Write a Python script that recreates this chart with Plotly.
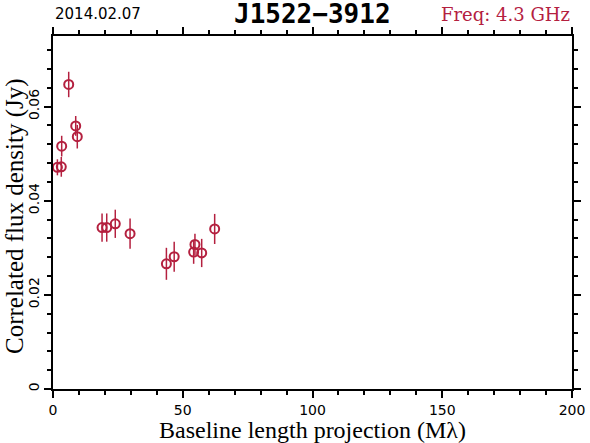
import plotly.graph_objects as go

baseline = [1.7, 3.2, 3.35, 6.05, 8.75, 9.36, 18.9, 20.7, 24.0, 29.7, 43.7, 46.7, 54.2, 54.7, 57.3, 62.3]
flux = [0.0471, 0.0472, 0.0516, 0.0647, 0.0559, 0.0536, 0.0343, 0.0343, 0.0351, 0.0330,
        0.0266, 0.0281, 0.0291, 0.0307, 0.0289, 0.0340]
flux_err = [0.0017, 0.0021, 0.0022, 0.0027, 0.0021, 0.0025, 0.0030, 0.0030, 0.0030, 0.0032,
            0.0034, 0.0032, 0.0025, 0.0023, 0.0030, 0.0032]

date_text = "2014.02.07"
source_text = "J1522\u22123912"
freq_text = "Freq: 4.3 GHz"
x_title = "Baseline length projection (M\u03bb)"
y_title = "Correlated flux density (Jy)"

red = "#B4203F"

fig = go.Figure()
fig.add_trace(go.Scatter(
    x=baseline, y=flux, mode="markers",
    marker=dict(symbol="circle-open", size=9, color=red, line=dict(width=2, color=red)),
    error_y=dict(type="data", array=flux_err, visible=True, color=red, thickness=1.5, width=0),
    showlegend=False,
))

axis_common = dict(
    showgrid=False, zeroline=False, showline=True, linecolor="black", linewidth=1.5,
    mirror="allticks", ticks="outside", tickcolor="black", tickwidth=1.5,
    tickfont=dict(family="DejaVu Sans", size=14, color="black"),
    automargin=False,
)

fig.update_xaxes(
    range=[0, 200], dtick=50, tick0=0, ticklen=7,
    minor=dict(dtick=10, ticklen=4, ticks="outside", tickcolor="black", tickwidth=1.5),
    **axis_common,
)
fig.update_yaxes(
    range=[0, 0.075], dtick=0.02, tick0=0, ticklen=7, tickangle=-90,
    minor=dict(dtick=0.004, ticklen=4, ticks="outside", tickcolor="black", tickwidth=1.5),
    **axis_common,
)

# axis titles
fig.add_annotation(text=x_title, x=0.5, y=0, xref="paper", yref="paper",
                   xanchor="center", yanchor="middle", yshift=-41, showarrow=False,
                   font=dict(family="Liberation Serif", size=24, color="black"))
fig.add_annotation(text=y_title, x=0, y=0.49, xref="paper", yref="paper",
                   xanchor="center", yanchor="middle", xshift=-38, textangle=-90, showarrow=False,
                   font=dict(family="Liberation Serif", size=25, color="black"))

# header texts
fig.add_annotation(text=date_text, x=0, y=1, xref="paper", yref="paper",
                   xanchor="left", yanchor="middle", yshift=22, showarrow=False,
                   font=dict(family="DejaVu Sans", size=15, color="black"))
fig.add_annotation(text="<b>" + source_text + "</b>", x=0.5, y=1, xref="paper", yref="paper",
                   xanchor="center", yanchor="middle", yshift=22, showarrow=False,
                   font=dict(family="DejaVu Sans Mono", size=26, color="black"))
fig.add_annotation(text=freq_text, x=1, y=1, xref="paper", yref="paper",
                   xanchor="right", yanchor="middle", yshift=22, showarrow=False,
                   font=dict(family="DejaVu Serif", size=18, color=red))

fig.update_layout(
    width=590, height=443,
    margin=dict(l=53, r=18, t=36, b=54),
    plot_bgcolor="white", paper_bgcolor="white",
)

fig.write_html("out.html", config={"displayModeBar": False},
               post_script="document.body.style.margin='0';document.body.style.overflow='hidden';")
